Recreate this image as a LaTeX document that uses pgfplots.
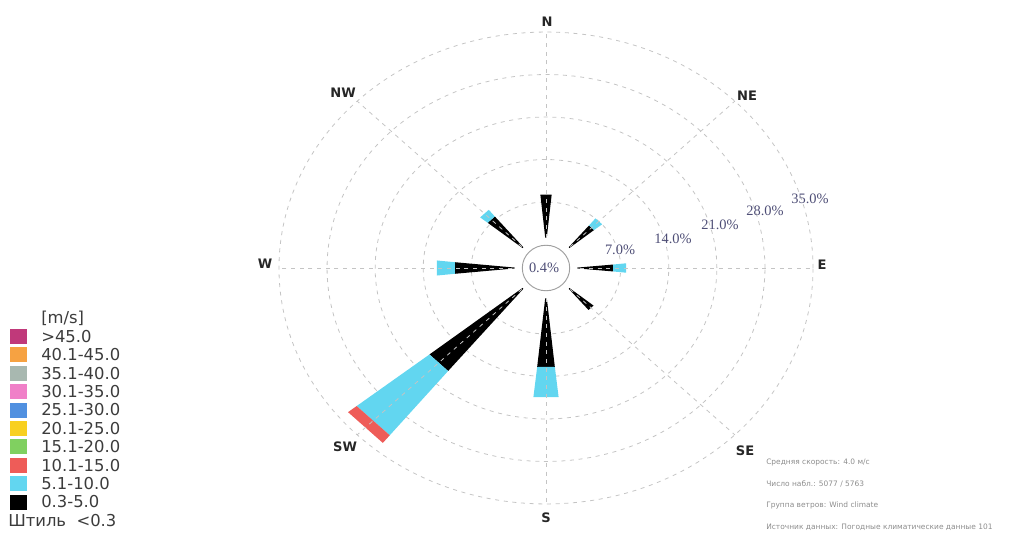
\documentclass[border=0pt]{standalone}
\usepackage{pgfplots}
\pgfplotsset{compat=1.18}
\usepackage{fontspec}
\setmainfont{Liberation Serif}
\newfontfamily\sansf{DejaVu Sans}
\definecolor{cyanbar}{RGB}{98,214,240}
\definecolor{redbar}{RGB}{238,92,88}
\definecolor{ringlab}{RGB}{78,78,118}
\definecolor{gridc}{RGB}{196,196,196}
\definecolor{legtxt}{RGB}{60,60,60}
\definecolor{cA}{RGB}{192,57,122}
\definecolor{cB}{RGB}{246,162,66}
\definecolor{cC}{RGB}{168,184,176}
\definecolor{cD}{RGB}{240,128,200}
\definecolor{cE}{RGB}{80,144,224}
\definecolor{cF}{RGB}{248,208,32}
\definecolor{cG}{RGB}{128,208,96}
\pgfplotsset{
  table/wedgexy/.style={row sep=\\,
    x expr={(\thisrow{r}+3.87)*sin(\thisrow{a}) + \thisrow{d}*0.11*max(\thisrow{r}+3.87-4.6,0)*cos(\thisrow{a})},
    y expr={(\thisrow{r}+3.87)*cos(\thisrow{a}) - \thisrow{d}*0.11*max(\thisrow{r}+3.87-4.6,0)*sin(\thisrow{a})}},
  wedge/.style={draw=none, fill=#1},
}
\begin{document}
\begin{tikzpicture}
\useasboundingbox (0pt,0pt) rectangle (775.5pt,399pt);
\begin{axis}[at={(409.5pt,198pt)}, anchor=center, x=5.1525pt, y=4.5525pt,
  xmin=-42, xmax=42, ymin=-42, ymax=42, hide axis, clip=false]
% rings 7,14,21,28,35 %
\pgfplotsinvokeforeach{10.87,17.87,24.87,31.87,38.87}{
  \draw[gridc, dash pattern=on 3pt off 3.5pt, line width=0.6pt] (axis cs:0,0) ellipse [x radius=#1, y radius=#1];
}
% N
\addplot[wedge=black] table[wedgexy] {a d r\\ 0 -1 0\\ 0 1 0\\ 0 1 8.2\\ 0 -1 8.2\\};
% NE
\addplot[wedge=black] table[wedgexy] {a d r\\ 45 -1 0\\ 45 1 0\\ 45 1 5.5\\ 45 -1 5.5\\};
\addplot[wedge=cyanbar] table[wedgexy] {a d r\\ 45 -1 5.5\\ 45 1 5.5\\ 45 1 7.0\\ 45 -1 7.0\\};
% E
\addplot[wedge=black] table[wedgexy] {a d r\\ 90 -1 0\\ 90 1 0\\ 90 1 5.9\\ 90 -1 5.9\\};
\addplot[wedge=cyanbar] table[wedgexy] {a d r\\ 90 -1 5.9\\ 90 1 5.9\\ 90 1 7.8\\ 90 -1 7.8\\};
% SE
\addplot[wedge=black] table[wedgexy] {a d r\\ 135 -1 0\\ 135 1 0\\ 135 1 5.4\\ 135 -1 5.4\\};
% S
\addplot[wedge=black] table[wedgexy] {a d r\\ 180 -1 0\\ 180 1 0\\ 180 1 12.4\\ 180 -1 12.4\\};
\addplot[wedge=cyanbar] table[wedgexy] {a d r\\ 180 -1 12.4\\ 180 1 12.4\\ 180 1 17.4\\ 180 -1 17.4\\};
% SW
\addplot[wedge=black] table[wedgexy] {a d r\\ 225 -1 0\\ 225 1 0\\ 225 1 18.2\\ 225 -1 18.2\\};
\addplot[wedge=cyanbar] table[wedgexy] {a d r\\ 225 -1 18.2\\ 225 1 18.2\\ 225 1 31.7\\ 225 -1 31.7\\};
\addplot[wedge=redbar] table[wedgexy] {a d r\\ 225 -1 31.7\\ 225 1 31.7\\ 225 1 33.3\\ 225 -1 33.3\\};
% W
\addplot[wedge=black] table[wedgexy] {a d r\\ 270 -1 0\\ 270 1 0\\ 270 1 9.4\\ 270 -1 9.4\\};
\addplot[wedge=cyanbar] table[wedgexy] {a d r\\ 270 -1 9.4\\ 270 1 9.4\\ 270 1 12.0\\ 270 -1 12.0\\};
% NW
\addplot[wedge=black] table[wedgexy] {a d r\\ 315 -1 0\\ 315 1 0\\ 315 1 7.4\\ 315 -1 7.4\\};
\addplot[wedge=cyanbar] table[wedgexy] {a d r\\ 315 -1 7.4\\ 315 1 7.4\\ 315 1 8.8\\ 315 -1 8.8\\};
% centre
\fill[white] (axis cs:0,0) ellipse [x radius=4.5, y radius=5.0];
\pgfplotsinvokeforeach{0,45,90,135,180,225,270,315}{
  \draw[gridc, dash pattern=on 3pt off 3.5pt, line width=0.6pt]
    (axis cs:{5*sin(#1)},{5*cos(#1)}) -- (axis cs:{38.87*sin(#1)},{38.87*cos(#1)});
}
\draw[gray!75, line width=0.7pt] (axis cs:0,0) ellipse [x radius=3.45, y radius=3.75];
\end{axis}
\begin{scope}[x=0.75pt,y=0.75pt]
% centre label and ring labels
\begin{scope}[every node/.style={text=ringlab, font=\fontsize{10.8}{12}\selectfont}]
\node at (544,264) {0.4\%};
\node at (620,282) {7.0\%};
\node at (673,293) {14.0\%};
\node at (720,307) {21.0\%};
\node at (765,321) {28.0\%};
\node at (810,333) {35.0\%};
\end{scope}
% direction labels
\begin{scope}[every node/.style={font=\sansf\bfseries\fontsize{9.8}{11}\selectfont, text=black!85}]
\node at (547,510) {N};
\node at (747,436) {NE};
\node at (822,267) {E};
\node at (745,81) {SE};
\node at (546,14) {S};
\node at (345,85) {SW};
\node at (265,268) {W};
\node at (343,439) {NW};
\end{scope}
% legend
\begin{scope}[every node/.style={anchor=west, font=\sansf\fontsize{12.3}{13}\selectfont, text=legtxt, inner sep=0pt}]
\node at (41,214) {[m/s]};
\foreach \c/\t [count=\i] in {cA/{>45.0}, cB/{40.1-45.0}, cC/{35.1-40.0}, cD/{30.1-35.0}, cE/{25.1-30.0}, cF/{20.1-25.0}, cG/{15.1-20.0}, redbar/{10.1-15.0}, cyanbar/{5.1-10.0}, black/{0.3-5.0}}{
  \pgfmathsetmacro{\yy}{214-18.4*\i}
  \fill[\c] (10,\yy-7.5) rectangle (27,\yy+7.5);
  \node at (41,\yy) {\t};
}
\node at (8,11.6) {Штиль \ <0.3};
\end{scope}
% info text
\begin{scope}[every node/.style={anchor=west, font=\sansf\fontsize{5.6}{6}\selectfont, text=gray!90, inner sep=0pt}]
\node at (766,69) {Средняя скорость: 4.0 м/с};
\node at (766,48) {Число набл.: 5077 / 5763};
\node at (766,27) {Группа ветров: Wind climate};
\node at (766,5) {Источник данных: Погодные климатические данные 101};
\end{scope}
\end{scope}
\end{tikzpicture}
\end{document}
